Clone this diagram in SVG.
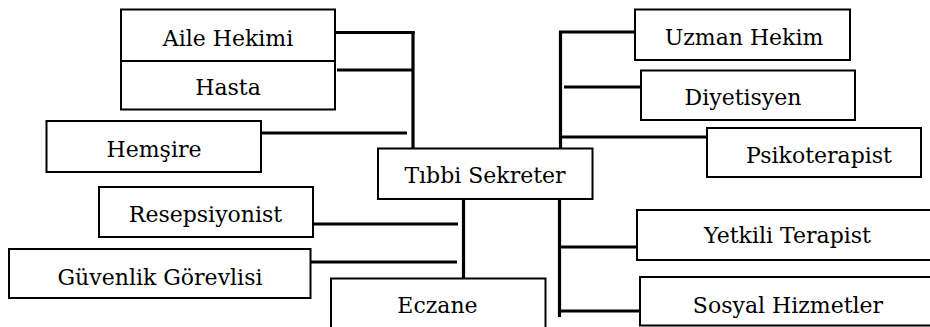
<svg xmlns="http://www.w3.org/2000/svg" width="930" height="327" viewBox="0 0 930 327">
<style>
.box{fill:#fff;stroke:#000;stroke-width:2}
text{font-family:'DejaVu Serif',serif;font-size:22px;fill:#000;text-anchor:middle}
.con{stroke:#000;stroke-width:3.2;fill:none}
</style>
<rect width="930" height="327" fill="#fff"/>
<g id="connectors">
<line class="con" x1="413" y1="31" x2="413" y2="152"/>
<line class="con" x1="335" y1="32.5" x2="414.5" y2="32.5"/>
<line class="con" x1="337" y1="70" x2="413" y2="70"/>
<line class="con" x1="261" y1="133" x2="407" y2="133"/>
<line class="con" x1="560.5" y1="31" x2="560.5" y2="153"/>
<line class="con" x1="559" y1="32" x2="635" y2="32"/>
<line class="con" x1="564" y1="87" x2="641" y2="87"/>
<line class="con" x1="560" y1="137" x2="707" y2="137"/>
<line class="con" x1="463.5" y1="198" x2="463.5" y2="278"/>
<line class="con" x1="313" y1="224" x2="458" y2="224"/>
<line class="con" x1="310" y1="262" x2="457" y2="262"/>
<line class="con" x1="559.5" y1="197" x2="559.5" y2="317"/>
<line class="con" x1="560" y1="247" x2="637" y2="247"/>
<line class="con" x1="560" y1="311" x2="640" y2="311"/>
</g>
<g id="aile-hekimi"><rect class="box" x="121" y="9.5" width="214" height="51.5"/><text x="228" y="45.5">Aile Hekimi</text></g>
<g id="hasta"><rect class="box" x="121" y="61" width="214" height="48.5"/><text x="228" y="95">Hasta</text></g>
<g id="hemsire"><rect class="box" x="46.5" y="121" width="214.5" height="51"/><text x="154" y="156.5">Hemşire</text></g>
<g id="uzman-hekim"><rect class="box" x="635" y="9.5" width="215" height="50.5"/><text x="744" y="45">Uzman Hekim</text></g>
<g id="diyetisyen"><rect class="box" x="641" y="70.5" width="214" height="49.5"/><text x="743" y="104.5">Diyetisyen</text></g>
<g id="psikoterapist"><rect class="box" x="707" y="128" width="214" height="49"/><text x="819" y="163.3">Psikoterapist</text></g>
<g id="tibbi-sekreter"><rect class="box" x="378" y="148.5" width="214.5" height="50.5"/><text x="485" y="183">Tıbbi Sekreter</text></g>
<g id="resepsiyonist"><rect class="box" x="99" y="187" width="214" height="50"/><text x="205.5" y="222.3">Resepsiyonist</text></g>
<g id="guvenlik"><rect class="box" x="9" y="249" width="301.5" height="49"/><text x="160" y="285">Güvenlik Görevlisi</text></g>
<g id="eczane"><rect class="box" x="331" y="278.5" width="214.5" height="60"/><text x="437.5" y="313.3">Eczane</text></g>
<g id="yetkili-terapist"><rect class="box" x="637" y="210" width="303" height="50"/><text x="787.5" y="243.3">Yetkili Terapist</text></g>
<g id="sosyal-hizmetler"><rect class="box" x="640" y="277" width="300" height="48.5"/><text x="788" y="313.3">Sosyal Hizmetler</text></g>
</svg>
